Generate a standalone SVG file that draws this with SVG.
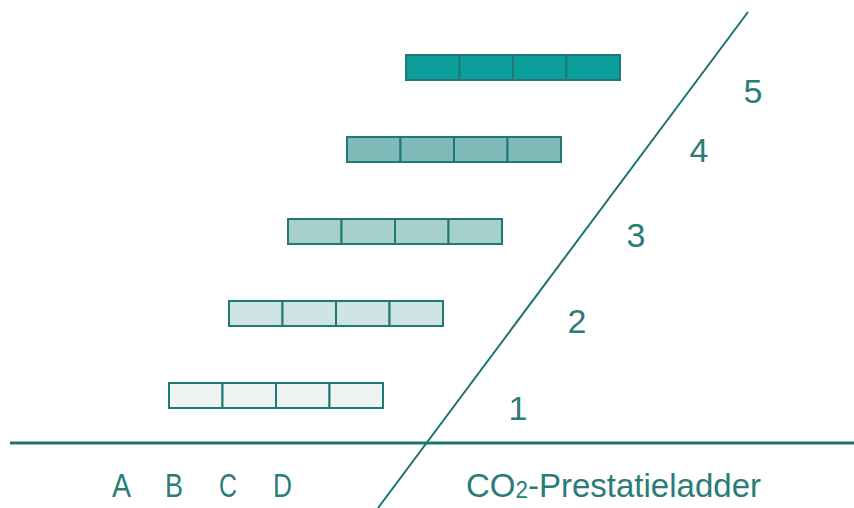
<svg xmlns="http://www.w3.org/2000/svg" width="854" height="508" viewBox="0 0 854 508">
<style>
.cell{stroke:#1d7a76;stroke-width:2}
.l5{fill:#0b9e9a}.l4{fill:#7fbbb8}.l3{fill:#a7d0cd}.l2{fill:#cfe4e2}.l1{fill:#eef4f3}
.t{font-family:"Liberation Sans",Arial,sans-serif;font-size:34px;fill:#2a7c78}
.ln{stroke:#1b7470;fill:none}
</style>
<defs>
<g id="bar">
<rect class="cell" x="0" y="0" width="53.5" height="25"/>
<rect class="cell" x="53.5" y="0" width="53.5" height="25"/>
<rect class="cell" x="107" y="0" width="53.5" height="25"/>
<rect class="cell" x="160.5" y="0" width="53.5" height="25"/>
</g>
</defs>
<rect width="854" height="508" fill="#ffffff"/>
<g id="connectors">
<line class="ln" x1="10" y1="443" x2="854" y2="443" stroke-width="3"/>
<line class="ln" x1="748" y1="12" x2="378" y2="508" stroke-width="2"/>
</g>
<g id="level5"><use href="#bar" class="l5" x="406" y="55"/></g>
<g id="level4"><use href="#bar" class="l4" x="347" y="137"/></g>
<g id="level3"><use href="#bar" class="l3" x="288" y="219"/></g>
<g id="level2"><use href="#bar" class="l2" x="229" y="301"/></g>
<g id="level1"><use href="#bar" class="l1" x="169" y="383"/></g>
<g id="numbers">
<text class="t" x="518" y="420" text-anchor="middle">1</text>
<text class="t" x="577" y="333" text-anchor="middle">2</text>
<text class="t" x="636" y="247" text-anchor="middle">3</text>
<text class="t" x="699" y="162" text-anchor="middle">4</text>
<text class="t" x="753" y="103" text-anchor="middle">5</text>
</g>
<g id="abcd">
<text class="t" x="112" y="497" textLength="19" lengthAdjust="spacingAndGlyphs">A</text>
<text class="t" x="165" y="497" textLength="18" lengthAdjust="spacingAndGlyphs">B</text>
<text class="t" x="219" y="497" textLength="18" lengthAdjust="spacingAndGlyphs">C</text>
<text class="t" x="273" y="497" textLength="19" lengthAdjust="spacingAndGlyphs">D</text>
</g>
<g id="title">
<text class="t" x="466" y="497" textLength="295" lengthAdjust="spacingAndGlyphs">CO<tspan font-size="23" dy="1">2</tspan><tspan dy="-1">-Prestatieladder</tspan></text>
</g>
</svg>
